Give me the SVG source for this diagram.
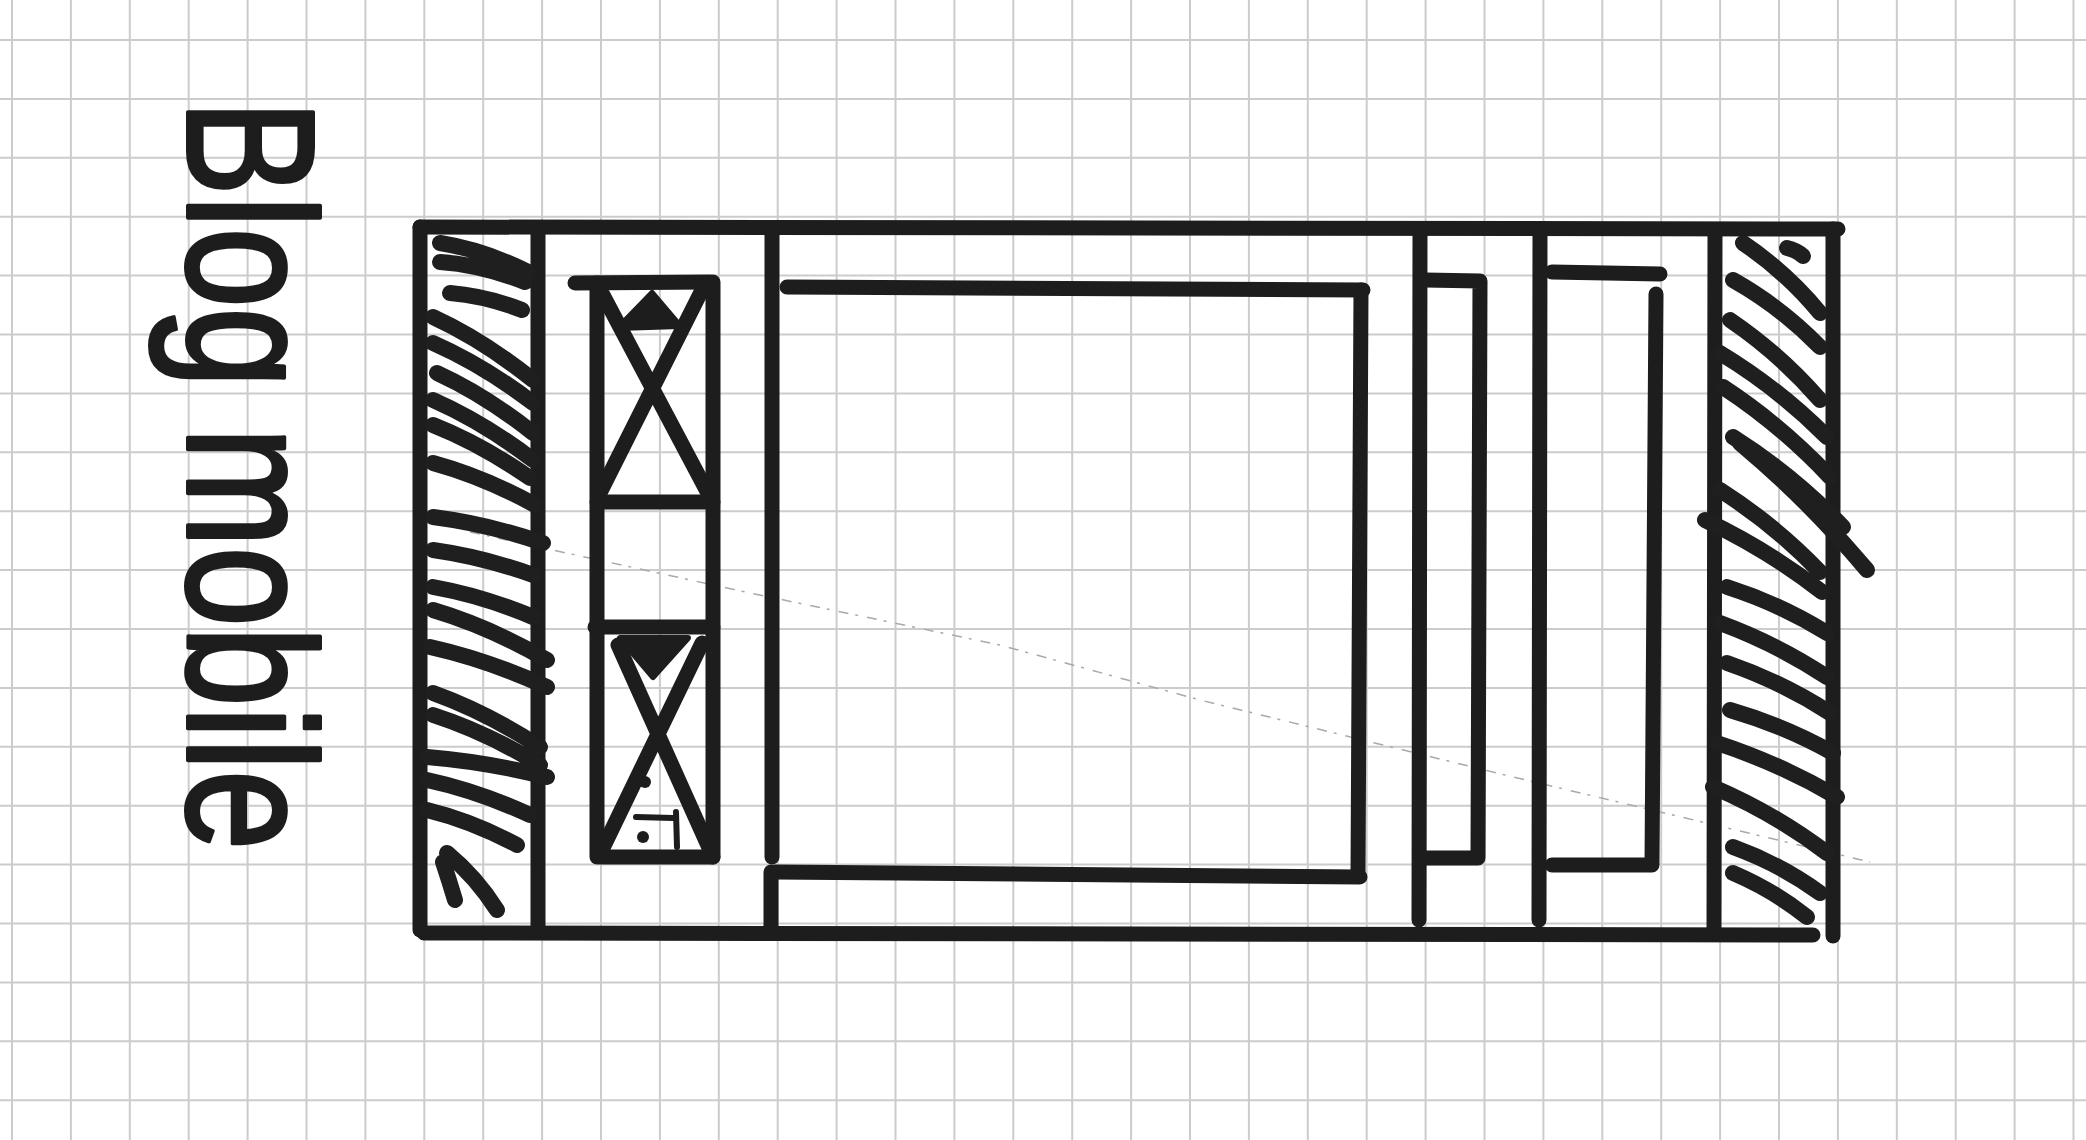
<svg xmlns="http://www.w3.org/2000/svg" width="2086" height="1140" viewBox="0 0 2086 1140">
<style>
.grid{stroke:#cccccc;stroke-width:2;fill:none}
.ink{stroke:#1d1d1d;stroke-width:15;stroke-linecap:round;stroke-linejoin:round;fill:none}
.hatch{stroke:#1f1f1f;stroke-width:16;stroke-linecap:round;fill:none}
.thin{stroke:#1d1d1d;stroke-width:6;stroke-linecap:round;fill:none}
.fill{fill:#1d1d1d;stroke:#1d1d1d;stroke-width:6;stroke-linejoin:round}
.faint{stroke:#a9a9a9;stroke-width:1.5;stroke-dasharray:10 7 3 9;fill:none}
.title{font-family:"Liberation Sans","Noto Sans",sans-serif;font-size:182px;fill:#1d1d1d;stroke:#1d1d1d;stroke-width:4;stroke-linejoin:round}
</style>
<rect width="2086" height="1140" fill="#ffffff"/>
<g id="grid">
<path class="grid" d="M12,0V1140 M70.9,0V1140 M129.8,0V1140 M188.7,0V1140 M247.6,0V1140 M306.5,0V1140 M365.4,0V1140 M424.3,0V1140 M483.2,0V1140 M542.1,0V1140 M601,0V1140 M659.9,0V1140 M718.8,0V1140 M777.7,0V1140 M836.6,0V1140 M895.5,0V1140 M954.4,0V1140 M1013.3,0V1140 M1072.2,0V1140 M1131.1,0V1140 M1190,0V1140 M1248.9,0V1140 M1307.8,0V1140 M1366.7,0V1140 M1425.6,0V1140 M1484.5,0V1140 M1543.4,0V1140 M1602.3,0V1140 M1661.2,0V1140 M1720.1,0V1140 M1779,0V1140 M1837.9,0V1140 M1896.8,0V1140 M1955.7,0V1140 M2014.6,0V1140 M2073.5,0V1140"/>
<path class="grid" d="M0,40H2086 M0,98.9H2086 M0,157.8H2086 M0,216.7H2086 M0,275.6H2086 M0,334.5H2086 M0,393.4H2086 M0,452.3H2086 M0,511.2H2086 M0,570.1H2086 M0,629H2086 M0,687.9H2086 M0,746.8H2086 M0,805.7H2086 M0,864.6H2086 M0,923.5H2086 M0,982.4H2086 M0,1041.3H2086 M0,1100.2H2086"/>
<polyline class="faint" points="470,532 750,593 1000,645 1200,700 1505,775 1870,862"/>
</g>
<g id="title">
<text class="title" transform="translate(188,100) rotate(90)" x="0" y="0" textLength="750" lengthAdjust="spacingAndGlyphs">Blog mobile</text>
</g>
<g id="frame">
<path class="ink" d="M420,227 L1838,229"/>
<path class="ink" d="M420,227 L420,930"/>
<path class="ink" d="M424,933 L1813,935"/>
<path class="ink" d="M1833,229 L1833,936"/>
<path class="ink" d="M538,232 L538,930"/>
<path class="ink" d="M1715,230 L1714,933"/>
</g>
<g id="left-hatch">
<path class="hatch" d="M440,243 Q484,250 528,272 M440,262 Q482,265 525,282 M450,293 Q486,296 522,310 M433,317 Q483,340 533,380 M433,343 Q483,365 533,403 M437,373 Q485,395 533,433 M433,400 Q483,422 533,460 M433,425 Q481,444 530,478 M433,463 Q484,477 535,505 M433,517 Q488,524 543,543 M433,550 Q483,557 533,575 M433,587 Q483,596 533,617 M433,610 Q490,627 547,660 M430,647 Q488,660 547,687 M433,693 Q486,712 540,747 M433,715 Q486,732 540,765 M427,757 Q487,762 547,777 M427,780 Q478,791 530,815 M427,810 Q472,821 517,845 M447,853 Q476,877 497,910 M443,862 Q449,880 455,900"/>
</g>
<g id="image-boxes">
<path class="ink" d="M575,283 L710,282"/>
<path class="ink" d="M597,283 L597,857"/>
<path class="ink" d="M713,282 L713,857"/>
<path class="ink" d="M597,502 L713,502"/>
<path class="ink" d="M595,627 L713,627"/>
<path class="ink" d="M600,857 L713,857"/>
<path class="ink" d="M603,295 L710,497 M705,284 L600,493"/>
<path class="fill" d="M652,293 L680,326 L618,328 Z"/>
<path class="ink" d="M618,645 L710,850 M702,643 L602,850"/>
<path class="fill" d="M620,638 L688,638 L653,677 Z"/>
<circle cx="645" cy="782" r="6" fill="#1d1d1d"/>
<circle cx="643" cy="837" r="6" fill="#1d1d1d"/>
<path class="thin" d="M636,817 L673,818 M676,812 L677,847"/>
</g>
<g id="main-image">
<path class="ink" d="M772,230 L772,857"/>
<path class="ink" d="M771,872 L771,930"/>
<path class="ink" d="M787,287 L1363,290"/>
<path class="ink" d="M1361,290 L1358,875"/>
<path class="ink" d="M775,872 L1360,877"/>
</g>
<g id="right-bars">
<path class="ink" d="M1420,232 L1419,920"/>
<path class="ink" d="M1425,280 L1480,281 L1478,858 L1420,858"/>
<path class="ink" d="M1540,230 L1539,920"/>
<path class="ink" d="M1552,272 L1660,274"/>
<path class="ink" d="M1656,294 L1652,865 L1552,865"/>
</g>
<g id="right-hatch">
<path class="hatch" d="M1743,243 Q1786,272 1820,313 M1787,248 Q1796,250 1803,256 M1733,280 Q1781,307 1820,347 M1730,320 Q1780,354 1820,400 M1720,353 Q1778,388 1827,437 M1723,387 Q1781,425 1830,477 M1733,437 Q1793,475 1843,527 M1740,443 Q1808,500 1867,570 M1720,490 Q1775,525 1820,572 M1705,520 Q1768,550 1822,592 M1727,587 Q1780,604 1827,633 M1720,623 Q1777,644 1827,677 M1727,663 Q1782,682 1830,713 M1730,710 Q1785,726 1833,753 M1717,743 Q1781,764 1837,797 M1713,787 Q1774,813 1827,853 M1733,847 Q1780,864 1820,893 M1733,873 Q1773,890 1807,917"/>
</g>
</svg>
